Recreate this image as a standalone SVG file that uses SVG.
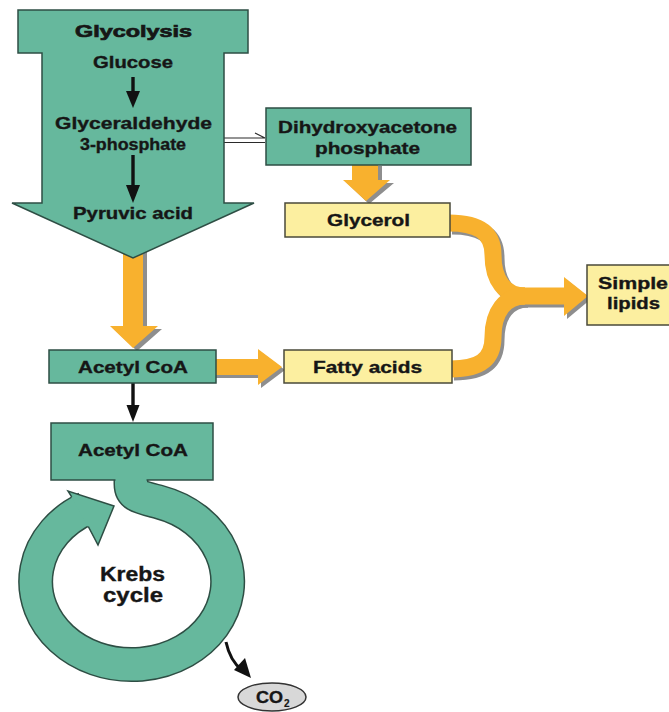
<svg xmlns="http://www.w3.org/2000/svg" width="669" height="712" viewBox="0 0 669 712">
<style>
.teal{fill:#66B89D;stroke:#2E4E44;stroke-width:1.5}
.yel{fill:#FCEFA0;stroke:#4A4A3A;stroke-width:1.5}
.org{fill:#F8B12E}
.shd{fill:#8E8E8E}
.t{font-family:"Liberation Sans",Arial,sans-serif;font-weight:bold;font-size:16.5px;fill:#161616;stroke:#161616;stroke-width:0.35}
.blk{fill:#111}
</style>
<rect width="669" height="712" fill="#fff"/>
<g id="connectors">
  <path class="shd" d="M127,252 L147,252 L147,329 L162,329 L137,351 L114,329 L127,329 Z"/>
  <path class="org" d="M123,250 L143,250 L143,326 L158,326 L133,348 L110,326 L123,326 Z"/>
  <path class="shd" d="M356,166 L382,166 L382,183 L394,183 L369,204 L347,183 L356,183 Z"/>
  <path class="org" d="M352,165 L378,165 L378,180 L390,180 L366,201 L343,180 L352,180 Z"/>
  <path class="shd" d="M216,362 L261,362 L261,352 L285,370 L261,388 L261,378 L216,378 Z"/>
  <path class="org" d="M216,359 L258,359 L258,349 L282,367 L258,385 L258,375 L216,375 Z"/>
  <g transform="translate(3,3)" fill="none" stroke="#8E8E8E" stroke-width="17">
    <path d="M449,223 C476,223 493,231 493,255 C493,280 505,296 525,296"/>
    <path d="M451,369 C478,369 493,361 493,337 C493,312 505,296 525,296"/>
    <path d="M515,296 L566,296"/>
  </g>
  <polygon class="shd" points="567,280 591,299 567,319"/>
  <g fill="none" stroke="#F8B12E" stroke-width="17">
    <path d="M449,223 C476,223 493,231 493,255 C493,280 505,296 525,296"/>
    <path d="M451,369 C478,369 493,361 493,337 C493,312 505,296 525,296"/>
    <path d="M515,296 L566,296"/>
  </g>
  <polygon class="org" points="564,277 588,296 564,316"/>
  <rect class="blk" x="131.3" y="383" width="3.4" height="24"/>
  <polygon class="blk" points="126.5,405 139.5,405 133,422"/>
  <g fill="none" stroke="#2A2A2A" stroke-width="1.2">
    <path d="M206,138 L265,138 L255,133"/>
    <path d="M265,142.5 L207,142.5 L217,147.5"/>
  </g>
  <path d="M226,642 C229,656 234,664 242,670" fill="none" stroke="#111" stroke-width="3"/>
  <polygon class="blk" points="251,678 234,670 245,658"/>
</g>
<g id="glycolysis">
  <path class="teal" d="M18,10 L248,10 L248,53 L224,53 L224,203 L254,203 L133,258 L12,203 L42,203 L42,53 L18,53 Z"/>
  <text class="t" x="75" y="37" style="stroke-width:0.7" textLength="117" lengthAdjust="spacingAndGlyphs">Glycolysis</text>
  <text class="t" x="93" y="68" textLength="80" lengthAdjust="spacingAndGlyphs">Glucose</text>
  <rect class="blk" x="131.3" y="77" width="3.4" height="16"/>
  <polygon class="blk" points="126,91 140,91 133,108"/>
  <text class="t" x="55" y="129" textLength="157" lengthAdjust="spacingAndGlyphs">Glyceraldehyde</text>
  <text class="t" x="80" y="150" textLength="106" lengthAdjust="spacingAndGlyphs">3-phosphate</text>
  <rect class="blk" x="131.3" y="155" width="3.4" height="32"/>
  <polygon class="blk" points="126,185 140,185 133,203"/>
  <text class="t" x="73" y="219" textLength="120" lengthAdjust="spacingAndGlyphs">Pyruvic acid</text>
</g>
<g id="dhap">
  <rect class="teal" x="266" y="108" width="205" height="57"/>
  <text class="t" x="278" y="133" textLength="179" lengthAdjust="spacingAndGlyphs">Dihydroxyacetone</text>
  <text class="t" x="315" y="154" textLength="105" lengthAdjust="spacingAndGlyphs">phosphate</text>
</g>
<g id="glycerol">
  <rect class="yel" x="285" y="203" width="165" height="34"/>
  <text class="t" x="327" y="226" textLength="83" lengthAdjust="spacingAndGlyphs">Glycerol</text>
</g>
<g id="acetylcoa1">
  <rect class="teal" x="49" y="350" width="167" height="33"/>
  <text class="t" x="78" y="373" textLength="110" lengthAdjust="spacingAndGlyphs">Acetyl CoA</text>
</g>
<g id="fattyacids">
  <rect class="yel" x="284" y="350" width="168" height="33"/>
  <text class="t" x="313" y="373" textLength="109" lengthAdjust="spacingAndGlyphs">Fatty acids</text>
</g>
<g id="simplelipids">
  <rect class="yel" x="587" y="265" width="90" height="60"/>
  <text class="t" x="598" y="289" textLength="70" lengthAdjust="spacingAndGlyphs">Simple</text>
  <text class="t" x="607" y="309" textLength="53" lengthAdjust="spacingAndGlyphs">lipids</text>
</g>
<g id="krebs">
  <path d="M131,476 L131,484 C131,496 140,497 160,502.3 A96,83 0 1 1 86,508.6" fill="none" stroke="#2E4E44" stroke-width="35"/>
  <path d="M131,476 L131,484 C131,496 140,497 160,502.3 A96,83 0 1 1 86,508.6" fill="none" stroke="#66B89D" stroke-width="32"/>
  <polygon points="68,491 114,506 98,545" fill="#66B89D"/>
  <path d="M71.7,496.9 L68,491 L114,506 L98,545 L88.3,526.5" fill="none" stroke="#2E4E44" stroke-width="1.5"/>
  <text class="t" x="100" y="581" style="font-size:20px" textLength="65" lengthAdjust="spacingAndGlyphs">Krebs</text>
  <text class="t" x="103" y="602" style="font-size:20px" textLength="60" lengthAdjust="spacingAndGlyphs">cycle</text>
</g>
<g id="acetylcoa2">
  <rect class="teal" x="51" y="423" width="162" height="57"/>
  <rect x="115.5" y="478" width="31" height="8" fill="#66B89D"/>
  <text class="t" x="78" y="456" textLength="110" lengthAdjust="spacingAndGlyphs">Acetyl CoA</text>
</g>
<g id="co2">
  <ellipse cx="272" cy="697" rx="34" ry="14" fill="#D8D8D8" stroke="#333" stroke-width="1.5"/>
  <text class="t" x="256" y="703" textLength="27" lengthAdjust="spacingAndGlyphs">CO</text>
  <text class="t" x="284" y="707" style="font-size:10px;stroke-width:0.2">2</text>
</g>
</svg>
